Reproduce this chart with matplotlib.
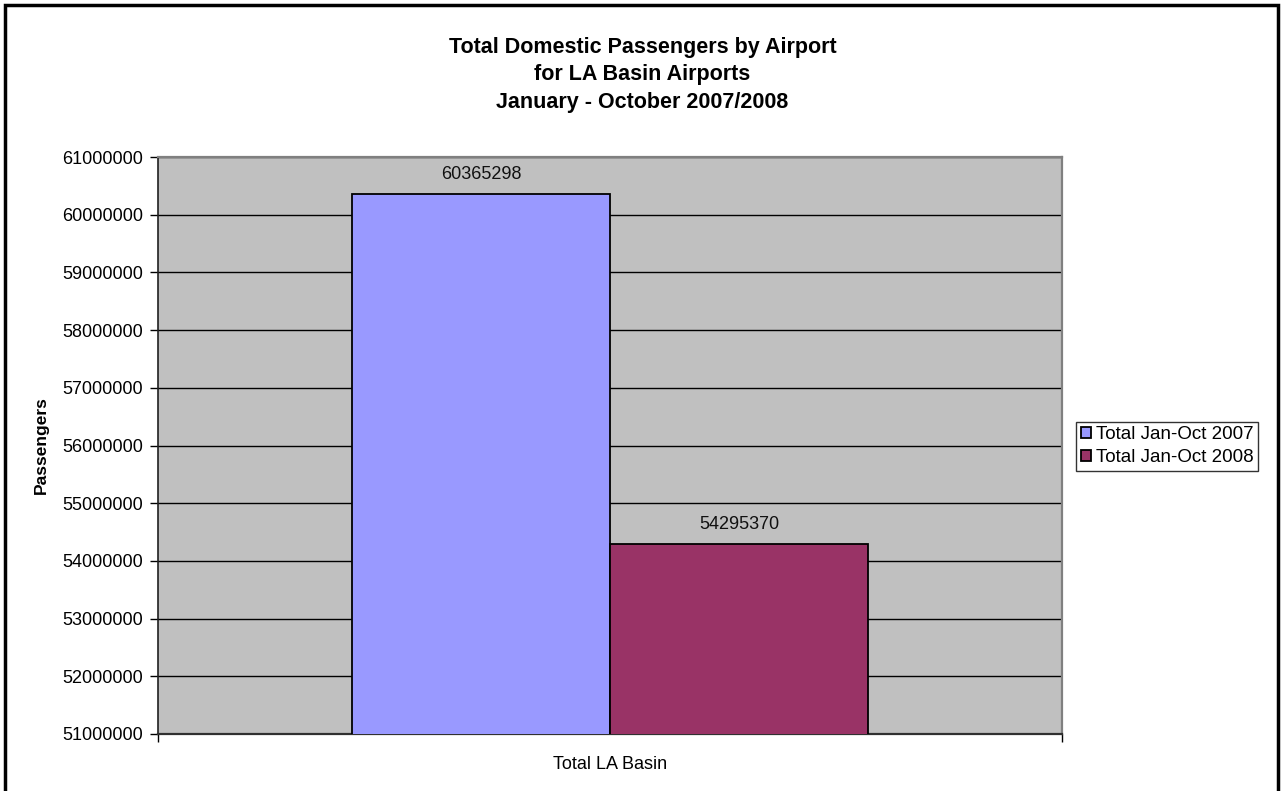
import matplotlib
matplotlib.use("Agg")
import matplotlib.pyplot as plt
from matplotlib.patches import Rectangle
from matplotlib.ticker import FuncFormatter, MultipleLocator

# Dados
categorias = ["Total LA Basin"]
series = ["Total Jan-Oct 2007", "Total Jan-Oct 2008"]
valores = [60365298, 54295370]
cores = ["#9999ff", "#993366"]

titulo = ("Total Domestic Passengers by Airport\n"
          "for LA Basin Airports\n"
          "January - October 2007/2008")

plt.rcParams["font.family"] = ["Liberation Sans", "DejaVu Sans"]

fig = plt.figure(figsize=(12.85, 7.91), dpi=100, facecolor="white")
ax = fig.add_axes([158 / 1285, 57 / 791, 904 / 1285, 577 / 791])
ax.set_facecolor("#c0c0c0")

largura = 0.2854
n = len(series)
for i, (nome, v, c) in enumerate(zip(series, valores, cores)):
    x = (i - (n - 1) / 2) * largura
    ax.bar(x, v, width=largura, color=c, edgecolor="black", linewidth=1.3,
           label=nome, zorder=3)
    ax.annotate(f"{v}", xy=(x, v), xytext=(0, 8), textcoords="offset points",
                ha="center", va="bottom", fontsize=13, color="#111111",
                zorder=4)

ax.set_xlim(-0.5, 0.5)
ax.set_ylim(51000000, 61000000)
ax.yaxis.set_major_locator(MultipleLocator(1000000))
ax.yaxis.set_major_formatter(FuncFormatter(lambda v, p: f"{int(v)}"))
ax.grid(axis="y", color="black", linewidth=1.0, zorder=1)
ax.set_axisbelow(True)

# eixo x: marcas nas bordas da categoria, rótulo no centro
ax.set_xticks([-0.5, 0.5])
ax.set_xticklabels(["", ""])
ax.set_xticks([0], minor=True)
ax.set_xticklabels(categorias, minor=True, fontsize=13)
ax.tick_params(axis="x", which="minor", length=0, pad=16)
ax.tick_params(axis="x", which="major", length=6, width=1, color="black")
ax.tick_params(axis="y", length=6, width=1, color="black", labelsize=13,
               pad=5)

ax.spines["top"].set_color("#808080")
ax.spines["right"].set_color("#808080")
ax.spines["top"].set_linewidth(1.6)
ax.spines["right"].set_linewidth(1.6)
ax.spines["left"].set_color("#202020")
ax.spines["bottom"].set_color("#303030")
ax.spines["left"].set_linewidth(1.2)
ax.spines["bottom"].set_linewidth(1.6)

ax.set_ylabel("Passengers", fontsize=12.5, fontweight="bold", labelpad=9)

fig.text(0.5, 1 - 37 / 791, titulo, ha="center", va="top", fontsize=15.5,
         fontweight="bold", linespacing=1.4)

leg = fig.legend(loc="center left", bbox_to_anchor=(1076 / 1285, 1 - 446 / 791),
                 fontsize=13.5, frameon=True, fancybox=False,
                 edgecolor="black", handlelength=0.55, handleheight=0.55,
                 handletextpad=0.25, borderpad=0.25, labelspacing=0.3,
                 borderaxespad=0)
leg.get_frame().set_linewidth(1.0)

# moldura externa
fig.patches.append(Rectangle((5 / 1285, -0.02), 1273 / 1285, 1 - 5 / 791 + 0.02,
                             transform=fig.transFigure, fill=False,
                             edgecolor="black", linewidth=2.5, zorder=10))

fig.savefig("out.png", dpi=100, facecolor="white")
